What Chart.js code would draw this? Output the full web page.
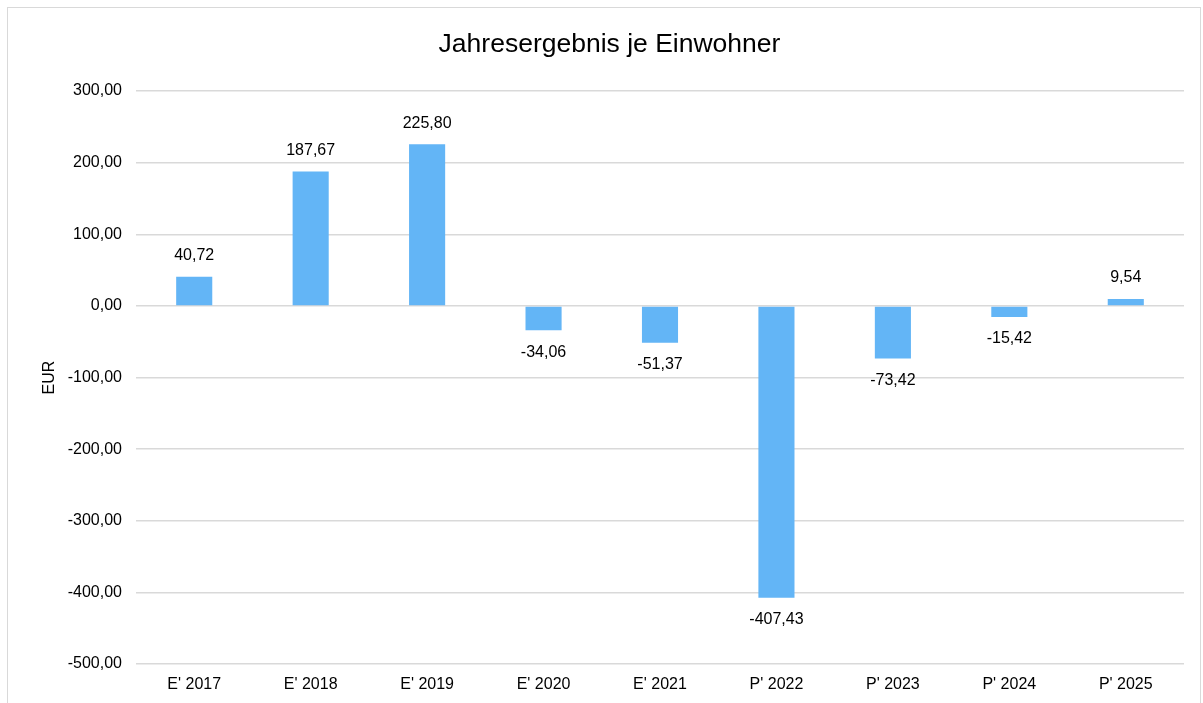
<!DOCTYPE html>
<html lang="de">
<head>
  <meta charset="UTF-8">
  <title>Jahresergebnis je Einwohner</title>
  <style>
    html, body {
      margin: 0;
      padding: 0;
      background: #fff;
      overflow: hidden;
    }
    #frame {
      position: absolute;
      left: 7px;
      top: 7px;
      width: 1194px;
      height: 710px;
      border: 1px solid #d9d9d9;
      box-sizing: border-box;
    }
    #chartWrapper {
      position: absolute;
      left: 0;
      top: 0;
      width: 1203px;
      height: 703px;
    }
  </style>
</head>
<body>
  <div id="frame"></div>
  <div id="chartWrapper">
    <canvas id="resultChart"></canvas>
  </div>

  <script src="https://cdn.jsdelivr.net/npm/chart.js/dist/chart.umd.min.js"></script>
  <script>
    // chart data
    const chartTitle = 'Jahresergebnis je Einwohner';
    const years = ["E' 2017", "E' 2018", "E' 2019", "E' 2020", "E' 2021", "P' 2022", "P' 2023", "P' 2024", "P' 2025"];
    const resultPerInhabitant = [40.72, 187.67, 225.80, -34.06, -51.37, -407.43, -73.42, -15.42, 9.54];
    const yTicks = [300, 200, 100, 0, -100, -200, -300, -400, -500];

    const fmt = v => v.toFixed(2).replace('.', ',');
    const FONT = 'Liberation Sans, Arial, sans-serif';

    // title is drawn by hand so it can sit a bit right of centre like the original
    const titlePlugin = {
      id: 'titlePlugin',
      afterDraw(chart) {
        const ctx = chart.ctx;
        ctx.save();
        ctx.font = '26.5px ' + FONT;
        ctx.fillStyle = '#000';
        ctx.textAlign = 'center';
        ctx.textBaseline = 'middle';
        ctx.fillText(chartTitle, chart.width / 2 + 8, 45);
        ctx.restore();
      }
    };

    // value above positive / below negative bars
    const valueLabels = {
      id: 'valueLabels',
      afterDatasetsDraw(chart) {
        const ctx = chart.ctx;
        const meta = chart.getDatasetMeta(0);
        ctx.save();
        ctx.font = '16px ' + FONT;
        ctx.fillStyle = '#000';
        ctx.textAlign = 'center';
        ctx.textBaseline = 'middle';
        meta.data.forEach((bar, i) => {
          const v = resultPerInhabitant[i];
          const y = v >= 0 ? bar.y - 21 : bar.y + 22;
          ctx.fillText(fmt(v), bar.x, y);
        });
        ctx.restore();
      }
    };

    new Chart(document.getElementById('resultChart'), {
      type: 'bar',
      data: {
        labels: years,
        datasets: [{
          data: resultPerInhabitant,
          backgroundColor: '#63b5f6',
          borderWidth: 0,
          barPercentage: 0.62,
          categoryPercentage: 0.5
        }]
      },
      options: {
        responsive: true,
        maintainAspectRatio: false,
        animation: false,
        layout: { padding: { left: 0, right: 19, top: 91, bottom: 0 } },
        plugins: {
          legend: { display: false },
          tooltip: { enabled: false },
          title: { display: false }
        },
        scales: {
          x: {
            grid: { display: false, drawTicks: false },
            border: { display: false },
            afterFit: axis => { axis.height = 39; },
            ticks: {
              color: '#000',
              font: { family: FONT, size: 16 },
              padding: 11,
              maxRotation: 0
            }
          },
          y: {
            min: -500,
            max: 300,
            afterBuildTicks: axis => { axis.ticks = yTicks.map(v => ({ value: v })); },
            afterFit: axis => { axis.width = 136; },
            grid: { color: '#d9d9d9', lineWidth: 1.5, drawTicks: false },
            border: { display: false },
            title: {
              display: true,
              text: 'EUR',
              color: '#000',
              font: { family: FONT, size: 16 },
              padding: { top: 40, bottom: 0 }
            },
            ticks: {
              color: '#000',
              font: { family: FONT, size: 16 },
              padding: 14,
              callback: v => fmt(v)
            }
          }
        }
      },
      plugins: [valueLabels, titlePlugin]
    });
  </script>
</body>
</html>
